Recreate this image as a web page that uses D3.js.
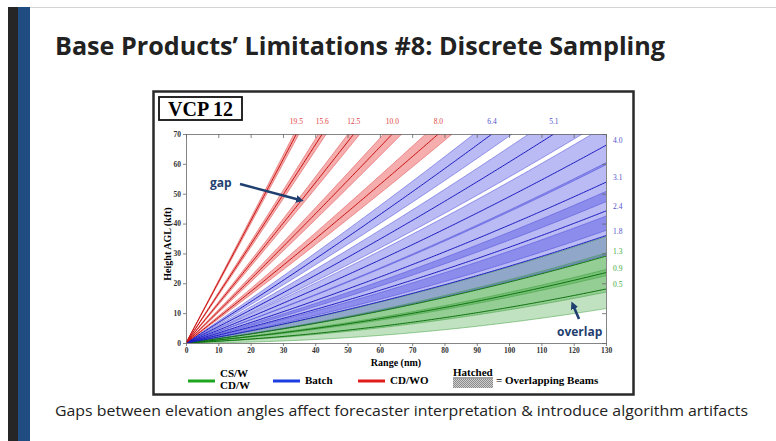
<!DOCTYPE html>
<html>
<head>
<meta charset="utf-8">
<script src="https://cdn.jsdelivr.net/npm/d3@7"></script>
<style>
  body { margin: 0; background: #fff; }
  svg { display: block; }
  .tick text { font-family: "Liberation Serif", serif; font-weight: bold; font-size: 7.5px; fill: #333; }
  .domain, .tick line { stroke: #666; stroke-width: 0.8; }
</style>
</head>
<body>
<div id="chart"></div>
<script>
// VCP 12 elevation angles (deg) and waveform of each cut
var elevations = [0.5, 0.9, 1.3, 1.8, 2.4, 3.1, 4.0, 5.1, 6.4, 8.0, 10.0, 12.5, 15.6, 19.5];
var waveforms = ["CS/W", "CS/W", "CS/W", "Batch", "Batch", "Batch", "Batch", "Batch", "Batch",
	"CD/WO", "CD/WO", "CD/WO", "CD/WO", "CD/WO"];
var beamWidth = 0.95;
var xTicks = [0, 10, 20, 30, 40, 50, 60, 70, 80, 90, 100, 110, 120, 130];
var yTicks = [0, 10, 20, 30, 40, 50, 60, 70];
var legendItems = ["CS/W", "Batch", "CD/WO"];

var colors = {
	"CS/W": { fill: "#2ea02e", edge: "#3a9a3a", center: "#0b6e0b", label: "#3caa3c", legend: "#1ea51e" },
	"Batch": { fill: "#3434e0", edge: "#4a4ad8", center: "#1a1ac0", label: "#5252cc", legend: "#1c3ee0" },
	"CD/WO": { fill: "#e62828", edge: "#e04848", center: "#c81010", label: "#e04444", legend: "#e01c1c" }
};
var fillOpacity = { "CS/W": 0.3, "Batch": 0.34, "CD/WO": 0.38 };

var W = 776, H = 441;
var svg = d3.select("#chart").append("svg").attr("width", W).attr("height", H);

// slide chrome
svg.append("line").attr("x1", 30).attr("x2", W).attr("y1", 7.5).attr("y2", 7.5)
	.attr("stroke", "#d4d4d4").attr("stroke-width", 1);
svg.append("rect").attr("x", 8).attr("y", 7).attr("width", 10).attr("height", H - 7).attr("fill", "#262626");
svg.append("rect").attr("x", 18).attr("y", 7).attr("width", 12).attr("height", H - 7).attr("fill", "#1f4d82");

svg.append("text").attr("x", 55).attr("y", 55)
	.attr("textLength", 610).attr("lengthAdjust", "spacingAndGlyphs")
	.style("font-family", "'Open Sans', sans-serif").style("font-weight", "bold").style("font-size", "25px")
	.style("fill", "#222")
	.text("Base Products\u2019 Limitations #8: Discrete Sampling");

svg.append("text").attr("x", 55).attr("y", 416)
	.attr("textLength", 693).attr("lengthAdjust", "spacingAndGlyphs")
	.style("font-family", "'Open Sans', sans-serif").style("font-size", "15px").style("fill", "#222")
	.text("Gaps between elevation angles affect forecaster interpretation & introduce algorithm artifacts");

// figure frame
svg.append("rect").attr("x", 153.5).attr("y", 91.5).attr("width", 480).attr("height", 303)
	.attr("fill", "#fff").attr("stroke", "#2a2a2a").attr("stroke-width", 2.5);
svg.append("rect").attr("x", 159).attr("y", 97).attr("width", 83).attr("height", 23)
	.attr("fill", "#fff").attr("stroke", "#111").attr("stroke-width", 1.8);
svg.append("text").attr("x", 200.5).attr("y", 116).attr("text-anchor", "middle")
	.style("font-family", "'Liberation Serif', serif").style("font-weight", "bold").style("font-size", "20px")
	.text("VCP 12");

var x = d3.scaleLinear().domain([0, 130]).range([186, 606]);
var y = d3.scaleLinear().domain([0, 70]).range([343, 134]);

// beam centre height (kft) at a range (nm), 4/3 earth radius model
var ka = 4 / 3 * 6371;
function beamHeight(rNm, elev) {
	var r = rNm * 1.852, s = Math.sin(elev * Math.PI / 180);
	return (Math.sqrt(r * r + ka * ka + 2 * r * ka * s) - ka) / 0.3048;
}
function rangeAtHeight(hKft, elev) {
	var h = hKft * 0.3048, s = Math.sin(elev * Math.PI / 180);
	return (-ka * s + Math.sqrt(ka * ka * s * s + (h + ka) * (h + ka) - ka * ka)) / 1.852;
}
var ranges = d3.range(0, 130.5, 0.5);

var defs = svg.append("defs");
defs.append("clipPath").attr("id", "plot-clip").append("rect")
	.attr("x", x(0)).attr("y", y(70)).attr("width", x(130) - x(0)).attr("height", y(0) - y(70));
var hatch = defs.append("pattern").attr("id", "hatch").attr("patternUnits", "userSpaceOnUse")
	.attr("width", 2).attr("height", 2);
hatch.append("rect").attr("width", 1).attr("height", 1).attr("fill", "rgba(20,20,60,0.18)");
var hatchLegend = defs.append("pattern").attr("id", "hatch-legend").attr("patternUnits", "userSpaceOnUse")
	.attr("width", 2).attr("height", 2);
hatchLegend.append("rect").attr("width", 2).attr("height", 2).attr("fill", "#cfcfcf");
hatchLegend.append("rect").attr("width", 1).attr("height", 1).attr("fill", "#8a8a8a");
hatchLegend.append("rect").attr("x", 1).attr("y", 1).attr("width", 1).attr("height", 1).attr("fill", "#8a8a8a");

var plot = svg.append("g").attr("clip-path", "url(#plot-clip)");

function band(lo, hi) {
	return d3.area()
		.x(function (r) { return x(r); })
		.y0(function (r) { return y(beamHeight(r, lo)); })
		.y1(function (r) { return y(beamHeight(r, hi)); })(ranges);
}
function edge(elev) {
	return d3.line()
		.x(function (r) { return x(r); })
		.y(function (r) { return y(beamHeight(r, elev)); })(ranges);
}

var beams = elevations.map(function (e, i) { return { elev: e, wf: waveforms[i] }; });

plot.selectAll("path.band").data(beams).enter().append("path")
	.attr("class", "band")
	.attr("d", function (d) { return band(d.elev - beamWidth / 2, d.elev + beamWidth / 2); })
	.attr("fill", function (d) { return colors[d.wf].fill; })
	.attr("fill-opacity", function (d) { return fillOpacity[d.wf]; });

// overlapping beams get hatched
var overlaps = [];
for (var i = 0; i < elevations.length - 1; i++) {
	var top = elevations[i] + beamWidth / 2, bot = elevations[i + 1] - beamWidth / 2;
	if (top > bot) overlaps.push({ lo: bot, hi: top });
}
plot.selectAll("path.overlap").data(overlaps).enter().append("path")
	.attr("class", "overlap")
	.attr("d", function (d) { return band(d.lo, d.hi); })
	.attr("fill", "url(#hatch)");

beams.forEach(function (d) {
	[-1, 1].forEach(function (sgn) {
		plot.append("path").attr("d", edge(d.elev + sgn * beamWidth / 2))
			.attr("fill", "none").attr("stroke", colors[d.wf].edge)
			.attr("stroke-width", 0.6).attr("stroke-opacity", 0.85);
	});
});
plot.selectAll("path.center").data(beams).enter().append("path")
	.attr("class", "center")
	.attr("d", function (d) { return edge(d.elev); })
	.attr("fill", "none")
	.attr("stroke", function (d) { return colors[d.wf].center; })
	.attr("stroke-width", 1);

// axes
svg.append("g").attr("transform", "translate(0," + y(0) + ")")
	.call(d3.axisBottom(x).tickValues(xTicks).tickSize(3).tickPadding(2).tickSizeOuter(0));
svg.append("g").attr("transform", "translate(" + x(0) + ",0)")
	.call(d3.axisLeft(y).tickValues(yTicks).tickSize(3).tickPadding(2).tickSizeOuter(0));
svg.append("g").attr("transform", "translate(0," + y(70) + ")")
	.call(d3.axisTop(x).tickValues(xTicks).tickSize(-4).tickFormat("").tickSizeOuter(0));
svg.append("g").attr("transform", "translate(" + x(130) + ",0)")
	.call(d3.axisRight(y).tickValues(yTicks).tickSize(-4).tickFormat("").tickSizeOuter(0));

svg.append("text").attr("x", 396).attr("y", 366).attr("text-anchor", "middle")
	.style("font-family", "'Liberation Serif', serif").style("font-weight", "bold").style("font-size", "10px")
	.text("Range (nm)");
svg.append("text").attr("transform", "translate(171,244) rotate(-90)").attr("text-anchor", "middle")
	.style("font-family", "'Liberation Serif', serif").style("font-weight", "bold").style("font-size", "10px")
	.text("Height AGL (kft)");

// elevation labels: top edge where the beam leaves the plot, right edge otherwise
beams.forEach(function (d) {
	var rTop = rangeAtHeight(70, d.elev);
	var t;
	if (rTop < 125) {
		t = svg.append("text").attr("x", x(rTop)).attr("y", 124).attr("text-anchor", "middle");
	} else {
		var h = Math.min(70, beamHeight(130, d.elev) + 1.5);
		t = svg.append("text").attr("x", x(130) + 7).attr("y", y(h) + 2.5);
	}
	t.style("font-family", "'Liberation Serif', serif").style("font-size", "7.5px")
		.style("fill", colors[d.wf].label)
		.text(d.elev.toFixed(1));
});

// annotations
var navy = "#1f3f70";
defs.append("marker").attr("id", "arrow").attr("viewBox", "0 0 10 10").attr("refX", 5).attr("refY", 5)
	.attr("markerWidth", 3).attr("markerHeight", 3).attr("orient", "auto")
	.append("path").attr("d", "M0,0 L10,5 L0,10 z").attr("fill", navy);
svg.append("text").attr("x", 210).attr("y", 187)
	.style("font-family", "'Open Sans', sans-serif").style("font-weight", "bold").style("font-size", "12px")
	.style("fill", navy).text("gap");
svg.append("line").attr("x1", 240).attr("y1", 184).attr("x2", 300).attr("y2", 200)
	.attr("stroke", navy).attr("stroke-width", 2.6).attr("marker-end", "url(#arrow)");
svg.append("text").attr("x", 557).attr("y", 336)
	.style("font-family", "'Open Sans', sans-serif").style("font-weight", "bold").style("font-size", "12px")
	.style("fill", navy).text("overlap");
svg.append("line").attr("x1", 579).attr("y1", 319).attr("x2", 573).attr("y2", 305)
	.attr("stroke", navy).attr("stroke-width", 2.6).attr("marker-end", "url(#arrow)");

// legend
var legendFont = function (sel) {
	return sel.style("font-family", "'Liberation Serif', serif").style("font-weight", "bold").style("font-size", "11px");
};
var legendX = [188, 273, 358];
legendItems.forEach(function (k, i) {
	svg.append("line").attr("x1", legendX[i]).attr("x2", legendX[i] + 27).attr("y1", 381).attr("y2", 381)
		.attr("stroke", colors[k].legend).attr("stroke-width", 3);
});
legendFont(svg.append("text").attr("x", 220).attr("y", 377)).text("CS/W");
legendFont(svg.append("text").attr("x", 220).attr("y", 389)).text("CD/W");
legendFont(svg.append("text").attr("x", 305).attr("y", 384)).text("Batch");
legendFont(svg.append("text").attr("x", 390).attr("y", 384)).text("CD/WO");
legendFont(svg.append("text").attr("x", 453).attr("y", 376)).text("Hatched");
svg.append("line").attr("x1", 453).attr("x2", 493).attr("y1", 378).attr("y2", 378).attr("stroke", "#111").attr("stroke-width", 0.8);
svg.append("rect").attr("x", 453).attr("y", 379).attr("width", 40).attr("height", 9).attr("fill", "url(#hatch-legend)");
legendFont(svg.append("text").attr("x", 496).attr("y", 384)).text("= Overlapping Beams");
</script>
</body>
</html>
